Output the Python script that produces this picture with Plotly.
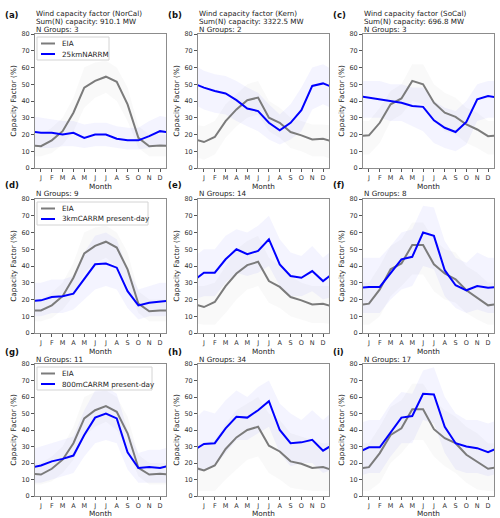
import plotly.graph_objects as go

MONTHS = ["J", "F", "M", "A", "M", "J", "J", "A", "S", "O", "N", "D"]
PANEL_LABELS = ["(a)", "(b)", "(c)", "(d)", "(e)", "(f)", "(g)", "(h)", "(i)"]
REGIONS = ["NorCal", "Kern", "SoCal"]
CAPACITY_MW = ["910.1", "3322.5", "696.8"]
N_GROUPS = [3, 2, 3, 9, 14, 8, 11, 34, 17]
MODEL_NAMES = ["25kmNARRM", "3kmCARRM present-day", "800mCARRM present-day"]

# EIA observed monthly capacity factor (%)
eia_a = [13, 16.5, 22, 33, 48, 52, 54.5, 51.5, 38, 18, 13, 13.5]
eia_b = [15.5, 18.5, 28, 35, 40.5, 42, 30, 27, 21.5, 19.5, 17, 17.5]
eia_c = [19.5, 27, 38, 41.5, 52, 50, 39, 33, 30.5, 26, 23, 19]
eia_d = [13.5, 16.5, 22, 33, 47.5, 52, 54.5, 51, 38, 17.5, 13, 13.5]
eia_e = [15.5, 18.5, 28, 35.5, 40.5, 42.5, 31, 27.5, 21.5, 19.5, 17, 17.5]
eia_f = [17.5, 26, 38, 41.5, 52.5, 52.5, 41, 35.5, 32, 25.5, 21, 16.5]
eia_g = [13, 16.5, 22, 32, 47, 52, 54.5, 51, 38, 17, 13, 13.5]
eia_h = [15.5, 18.5, 28.5, 35.5, 40, 42, 30.5, 27, 21, 19.5, 17, 17.5]
eia_i = [17.5, 26, 37, 41, 52.5, 52.5, 40.5, 35, 32, 25, 21, 16.5]

# Model monthly capacity factor (%)
model_a = [21, 21, 20, 21, 18, 20, 20, 17.5, 16.5, 16.5, 19, 22]
model_b = [48, 46, 44.5, 40.5, 35.5, 34, 27, 22.5, 27, 34.5, 49, 50.5]
model_c = [42, 41, 40, 39, 37, 36.5, 28.5, 24, 21.5, 27.5, 41, 43]
model_d = [19.5, 21.5, 22, 23.5, 32.5, 41, 41.5, 39, 25, 16.5, 18, 19]
model_e = [36, 36, 44, 50, 47, 49, 56, 41, 34, 33, 37, 31]
model_f = [27.5, 27.5, 36, 44, 45.5, 60, 58, 37.5, 28.5, 25.5, 28, 27]
model_g = [18.5, 21, 22.5, 24.5, 37, 47.5, 50, 47, 26.5, 17, 17.5, 17]
model_h = [31.5, 32, 41, 48, 47.5, 52, 57.5, 40, 32, 32.5, 34, 27.5]
model_i = [29.5, 29.5, 38.5, 47.5, 48.5, 62, 61.5, 42, 32, 30, 29, 26.5]

# Spread of the individual (faint) model curves: low / high envelopes
model_lo_a = [12, 12, 13, 13, 12, 13, 13, 12, 11, 11, 12, 14]
model_hi_a = [30, 29, 28, 28, 26, 27, 27, 25, 24, 24, 28, 31]
model_lo_b = [35, 33, 32, 28, 25, 22, 17, 14, 17, 22, 35, 38]
model_hi_b = [58, 56, 55, 52, 48, 45, 38, 32, 38, 48, 60, 62]
model_lo_c = [30, 30, 28, 28, 25, 22, 15, 12, 10, 14, 28, 30]
model_hi_c = [52, 52, 50, 50, 48, 48, 40, 36, 34, 40, 50, 52]
model_lo_d = [10, 12, 12, 14, 20, 26, 28, 26, 15, 8, 10, 10]
model_hi_d = [30, 32, 32, 34, 48, 58, 60, 56, 38, 26, 28, 30]
model_lo_e = [22, 22, 30, 36, 34, 36, 40, 28, 22, 22, 25, 20]
model_hi_e = [50, 50, 58, 62, 60, 64, 70, 56, 48, 46, 52, 45]
model_lo_f = [12, 12, 20, 26, 28, 40, 38, 22, 15, 12, 14, 12]
model_hi_f = [45, 45, 52, 60, 62, 76, 75, 55, 45, 42, 48, 45]
model_lo_g = [8, 10, 12, 14, 24, 32, 34, 32, 16, 8, 8, 8]
model_hi_g = [30, 32, 34, 36, 52, 64, 66, 62, 40, 26, 28, 28]
model_lo_h = [16, 18, 26, 34, 34, 38, 42, 26, 18, 20, 20, 14]
model_hi_h = [52, 50, 58, 64, 60, 66, 70, 56, 50, 46, 52, 46]
model_lo_i = [14, 14, 24, 32, 32, 46, 44, 26, 16, 14, 14, 12]
model_hi_i = [46, 46, 56, 63, 62, 76, 78, 60, 50, 46, 46, 44]

# Spread of the individual (faint) EIA curves
eia_lo_a = [7, 9, 14, 22, 36, 42, 45, 40, 28, 12, 7, 7]
eia_hi_a = [20, 24, 30, 42, 60, 63, 64, 60, 48, 25, 20, 20]
eia_lo_b = [5, 8, 18, 25, 30, 32, 22, 18, 12, 10, 7, 7]
eia_hi_b = [25, 28, 38, 44, 50, 52, 40, 36, 30, 28, 26, 26]
eia_lo_c = [8, 15, 28, 32, 40, 38, 28, 22, 20, 15, 12, 8]
eia_hi_c = [28, 36, 46, 50, 62, 62, 50, 45, 42, 36, 33, 28]
eia_lo_d = [7, 9, 14, 22, 36, 42, 45, 40, 28, 12, 7, 7]
eia_hi_d = [20, 24, 30, 42, 60, 63, 64, 60, 48, 25, 20, 20]
eia_lo_e = [5, 5, 12, 20, 26, 28, 18, 15, 10, 8, 6, 6]
eia_hi_e = [28, 30, 40, 50, 55, 58, 45, 40, 34, 30, 28, 28]
eia_lo_f = [5, 10, 22, 28, 35, 35, 25, 20, 18, 12, 8, 5]
eia_hi_f = [30, 40, 52, 56, 66, 66, 56, 50, 48, 40, 36, 30]
eia_lo_g = [7, 9, 14, 22, 36, 42, 45, 40, 28, 12, 7, 7]
eia_hi_g = [20, 24, 30, 42, 60, 63, 64, 60, 48, 25, 20, 20]
eia_lo_h = [3, 3, 10, 16, 22, 24, 14, 10, 5, 4, 3, 3]
eia_hi_h = [32, 34, 44, 52, 56, 60, 50, 46, 38, 36, 34, 32]
eia_lo_i = [3, 8, 20, 26, 34, 34, 24, 18, 14, 8, 4, 3]
eia_hi_i = [32, 42, 54, 58, 68, 68, 58, 52, 48, 42, 38, 32]

EIA = [eia_a, eia_b, eia_c, eia_d, eia_e, eia_f, eia_g, eia_h, eia_i]
MODEL = [model_a, model_b, model_c, model_d, model_e, model_f, model_g, model_h, model_i]
MODEL_LO = [model_lo_a, model_lo_b, model_lo_c, model_lo_d, model_lo_e, model_lo_f, model_lo_g, model_lo_h, model_lo_i]
MODEL_HI = [model_hi_a, model_hi_b, model_hi_c, model_hi_d, model_hi_e, model_hi_f, model_hi_g, model_hi_h, model_hi_i]
EIA_LO = [eia_lo_a, eia_lo_b, eia_lo_c, eia_lo_d, eia_lo_e, eia_lo_f, eia_lo_g, eia_lo_h, eia_lo_i]
EIA_HI = [eia_hi_a, eia_hi_b, eia_hi_c, eia_hi_d, eia_hi_e, eia_hi_f, eia_hi_g, eia_hi_h, eia_hi_i]

W, H = 500, 518
FONT = "DejaVu Sans"
COL_PX = [(35, 166), (198, 329), (363, 494)]
ROW_PX = [(34, 168), (199, 333), (364, 496)]
LABEL_Y = [15, 185, 352]
LEGEND_W = [72, 111, 115]
BLUE = "#0000ff"
GREY = "#7b7b7b"


def px_x(v):
    return v / W


def px_y(v):
    return 1 - v / H


def wrap(arr):
    # cyclic annual curve: previous Dec and next Jan just outside the axis range
    xs = [-1] + list(range(12)) + [12]
    ys = [arr[-1]] + list(arr) + [arr[0]]
    return xs, ys


fig = go.Figure()
annotations = []
shapes = []
layout = {}

for k in range(9):
    r, c = divmod(k, 3)
    sfx = "" if k == 0 else str(k + 1)
    xa, ya = "x" + sfx, "y" + sfx
    x0, x1 = COL_PX[c]
    yt, yb = ROW_PX[r]

    # faint spreads of the individual curves
    for lo, hi, col in [(EIA_LO[k], EIA_HI[k], "rgba(128,128,128,0.05)"),
                        (MODEL_LO[k], MODEL_HI[k], "rgba(70,70,255,0.06)")]:
        xs, ylo = wrap(lo)
        _, yhi = wrap(hi)
        fig.add_trace(go.Scatter(
            x=xs + xs[::-1], y=yhi + ylo[::-1], fill="toself", fillcolor=col,
            line=dict(width=0), mode="lines", hoverinfo="skip",
            showlegend=False, xaxis=xa, yaxis=ya))

    xs, ye = wrap(EIA[k])
    fig.add_trace(go.Scatter(
        x=xs, y=ye, mode="lines", name="EIA",
        line=dict(color=GREY, width=2), showlegend=False, xaxis=xa, yaxis=ya))
    xs, ym = wrap(MODEL[k])
    fig.add_trace(go.Scatter(
        x=xs, y=ym, mode="lines", name=MODEL_NAMES[r],
        line=dict(color=BLUE, width=2), showlegend=False, xaxis=xa, yaxis=ya))

    layout["xaxis" + sfx] = dict(
        domain=[px_x(x0), px_x(x1)], anchor=ya, range=[-0.55, 11.55], automargin=False,
        tickvals=list(range(12)), ticktext=MONTHS, ticks="outside", ticklen=3,
        tickcolor="#555", tickfont=dict(size=6.5, color="#333", family=FONT),
        showline=True, mirror=True, linecolor="#8c8c8c", linewidth=1,
        showgrid=False, zeroline=False,
        title=dict(text="Month", font=dict(size=7.3, color="#222", family=FONT), standoff=1))
    layout["yaxis" + sfx] = dict(
        domain=[px_y(yb), px_y(yt)], anchor=xa, range=[0, 80], dtick=10, automargin=False,
        ticks="outside", ticklen=3, tickcolor="#555",
        tickfont=dict(size=6.5, color="#333", family=FONT),
        showline=True, mirror=True, linecolor="#8c8c8c", linewidth=1,
        showgrid=False, zeroline=False,
        title=dict(text="Capacity Factor (%)", font=dict(size=7.3, color="#222", family=FONT), standoff=3))

    # panel label
    annotations.append(dict(
        text="<b>" + PANEL_LABELS[k] + "</b>", x=px_x(x0 - 32), y=px_y(LABEL_Y[r]),
        xref="paper", yref="paper", xanchor="left", yanchor="middle", showarrow=False,
        font=dict(size=8.5, color="#111", family=FONT)))
    if r == 0:
        lines = ["Wind capacity factor (%s)" % REGIONS[c],
                 "Sum(N) capacity: %s MW" % CAPACITY_MW[c],
                 "N Groups: %d" % N_GROUPS[k]]
        ys_ = [13.5, 21.5, 29]
    else:
        lines = ["N Groups: %d" % N_GROUPS[k]]
        ys_ = [yt - 5]
    for txt, yy in zip(lines, ys_):
        annotations.append(dict(
            text=txt, x=px_x(x0 - 1), y=px_y(yy), xref="paper", yref="paper",
            xanchor="left", yanchor="middle", showarrow=False,
            font=dict(size=7.2, color="#222", family=FONT)))

# legends (one per row, in the left-hand panel), drawn as box + line samples + text
for r in range(3):
    lx = COL_PX[0][0] + 2
    ly = ROW_PX[r][0] + 3
    shapes.append(dict(type="rect", xref="paper", yref="paper",
                       x0=px_x(lx), x1=px_x(lx + LEGEND_W[r]), y0=px_y(ly), y1=px_y(ly + 23),
                       line=dict(color="#d4d4d4", width=1), fillcolor="rgba(255,255,255,0.85)"))
    for j, (name, col) in enumerate([("EIA", GREY), (MODEL_NAMES[r], BLUE)]):
        yy = ly + 6.5 + j * 10.5
        shapes.append(dict(type="line", xref="paper", yref="paper",
                           x0=px_x(lx + 4), x1=px_x(lx + 18), y0=px_y(yy), y1=px_y(yy),
                           line=dict(color=col, width=2)))
        annotations.append(dict(
            text=name, x=px_x(lx + 23), y=px_y(yy), xref="paper", yref="paper",
            xanchor="left", yanchor="middle", showarrow=False,
            font=dict(size=7.2, color="#222", family=FONT)))

fig.update_layout(
    width=W, height=H, margin=dict(l=0, r=0, t=0, b=0),
    paper_bgcolor="white", plot_bgcolor="white", showlegend=False,
    font=dict(family=FONT), annotations=annotations, shapes=shapes, **layout)

fig.write_html("out.html", config={"displayModeBar": False},
               post_script="document.body.style.margin='0px';document.body.style.overflow='hidden';")
